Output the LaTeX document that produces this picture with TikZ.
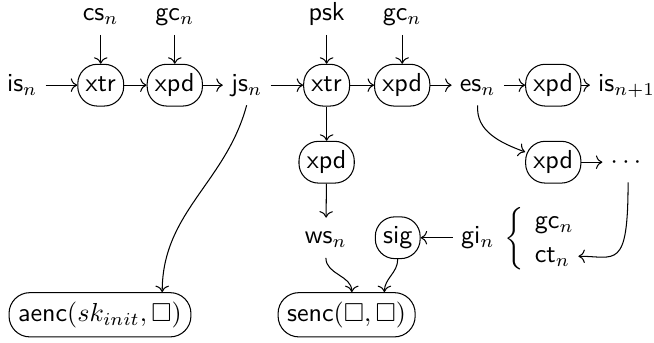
\documentclass[tikz,border=0pt]{standalone}
\usepackage{amsmath}
\usepackage{amssymb}
\usetikzlibrary{arrows.meta, positioning}

\begin{document}
\begin{tikzpicture}[
    fn/.style={
        rectangle, draw, rounded corners=7.5pt,
        font=\sffamily, inner xsep=3pt, inner ysep=3.5pt,
        text height=1.6ex, text depth=0.5ex
    },
    encbox/.style={
        rectangle, draw, rounded corners=8pt,
        font=\sffamily, inner sep=3.5pt
    },
    val/.style={
        font=\sffamily, inner sep=3pt,
        text height=1.6ex, text depth=0.5ex
    },
    arrow/.style={-{To}}
]
\useasboundingbox (0,0) rectangle (8.83,-4.63);

%% ─── FIRST ROW: key schedule ─────────────────────────────────
\node[val] (is)     at (0.30,-1.15) {is$_n$};
\node[fn]  (xtr1)   at (1.36,-1.15) {xtr};
\node[fn]  (xpd1)   at (2.36,-1.15) {xpd};
\node[val] (js)     at (3.33,-1.15) {js$_n$};
\node[fn]  (xtr2)   at (4.41,-1.15) {xtr};
\node[fn]  (xpd2)   at (5.43,-1.15) {xpd};
\node[val] (es)     at (6.45,-1.15) {es$_n$};
\node[fn]  (xpd3)   at (7.47,-1.15) {xpd};
\node[val] (isnext) at (8.46,-1.15) {is$_{n+1}$};

%% ─── INPUTS FROM ABOVE ───────────────────────────────────────
\node[val] (cs)  at (1.36,-0.20) {cs$_n$};
\node[val] (gc1) at (2.36,-0.20) {gc$_n$};
\node[val] (psk) at (4.41,-0.20) {psk};
\node[val] (gc2) at (5.43,-0.20) {gc$_n$};

%% ─── SECOND ROW ──────────────────────────────────────────────
\node[fn]  (xpdws) at (4.41,-2.19) {xpd};
\node[fn]  (xpd4)  at (7.47,-2.19) {xpd};
\node[val] (dots)  at (8.48,-2.19) {$\cdots$};

%% ─── THIRD ROW ───────────────────────────────────────────────
\node[val] (ws)  at (4.40,-3.21) {ws$_n$};
\node[fn]  (sig) at (5.37,-3.21) {sig};
\node[val] (gi)  at (6.45,-3.21) {gi$_n$};
\node (brace) at (6.97,-3.22) {$\left\{\vcenter{\hbox{\rule{0pt}{22pt}}}\right.$};
\node[val, anchor=west] (gc3) at (7.11,-3.00) {gc$_n$};
\node[val, anchor=west] (ct)  at (7.11,-3.46) {ct$_n$};

%% ─── ENCRYPTIONS ─────────────────────────────────────────────
\node[encbox] (aenc) at (1.35,-4.25) {aenc$(sk_{init},\Box)$};
\node[encbox] (senc) at (4.68,-4.25) {senc$(\Box,\Box)$};

%% ─── ARROWS ──────────────────────────────────────────────────
\draw[arrow] (is)   -- (xtr1);
\draw[arrow] (xtr1) -- (xpd1);
\draw[arrow] (xpd1) -- (js);
\draw[arrow] (js)   -- (xtr2);
\draw[arrow] (xtr2) -- (xpd2);
\draw[arrow] (xpd2) -- (es);
\draw[arrow] (es)   -- (xpd3);
\draw[arrow] (xpd3) -- (isnext);

\draw[arrow] (cs)  -- (xtr1);
\draw[arrow] (gc1) -- (xpd1);
\draw[arrow] (psk) -- (xtr2);
\draw[arrow] (gc2) -- (xpd2);

\draw[arrow] (xtr2)  -- (xpdws);
\draw[arrow] (xpdws) -- (ws);
\draw[arrow] (es.south) to[out=-95, in=160] (xpd4);
\draw[arrow] (xpd4) -- (dots);
\draw[arrow] (dots.south) .. controls +(0,-1.2) and +(0.5,0) .. (ct.east);
\draw[arrow] (gi) -- (sig);

% into the two encryptions
\draw[arrow] (js.south) to[out=-105, in=90] ([xshift=0.84cm]aenc.north);
\draw[arrow] (ws.south) to[out=-90, in=90] ([xshift=0.07cm]senc.north);
\draw[arrow] (sig.south) to[out=-90, in=90] ([xshift=0.51cm]senc.north);

\end{tikzpicture}
\end{document}
